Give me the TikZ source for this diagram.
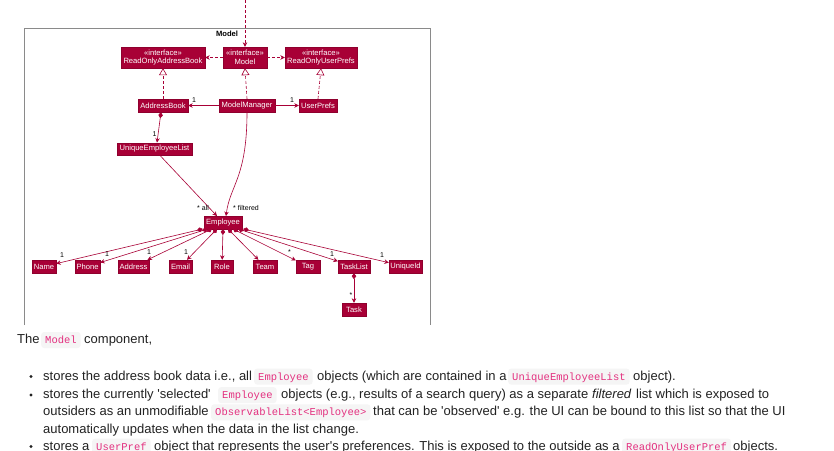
\documentclass[tikz,border=0pt]{standalone}
\usepackage{fontspec}
\usetikzlibrary{arrows.meta,calc}
\newfontfamily\bodyf{Liberation Sans}
\newfontfamily\codef{Liberation Mono}
\newfontfamily\umlf{Liberation Sans}
\definecolor{umlred}{HTML}{A80036}
\definecolor{framegray}{HTML}{8A8A8A}
\definecolor{bodytext}{HTML}{222222}
\definecolor{codepink}{HTML}{E3307F}
\definecolor{codebg}{HTML}{F5F5F5}
\tikzset{
  cls/.style={fill=umlred, draw=umlred!85!black, line width=0.4pt, text=white,
    font=\umlf\fontsize{7.6}{8.6}\selectfont, inner sep=0pt, align=center},
  conn/.style={color=umlred, draw=umlred, line width=0.6pt},
  assoc/.style={conn, -{Stealth[length=4.5pt,width=4.5pt,inset=1.5pt]}},
  depend/.style={conn, dash pattern=on 3pt off 2pt, -{Stealth[length=4.5pt,width=4.5pt,inset=1.5pt]}},
  realize/.style={conn, dash pattern=on 3pt off 2pt, -{Triangle[open,length=7pt,width=8pt,fill=white]}},
  compo/.style={conn, {Diamond[length=6pt,width=4.5pt]}-{Stealth[length=4.5pt,width=4.5pt,inset=1.5pt]}},
  mult/.style={font=\umlf\fontsize{7}{8}\selectfont, text=black, inner sep=0pt},
  txt/.style={anchor=base west, inner sep=0pt, text=bodytext, font=\bodyf\fontsize{13}{16}\selectfont},
  code/.style={anchor=base west, inner xsep=4pt, inner ysep=0pt, text height=11.4pt, text depth=4.6pt,
    fill=codebg, rounded corners=3pt, text=codepink, font=\codef\fontsize{10.5}{12}\selectfont},
  bullet/.style={fill=bodytext, circle, inner sep=0pt, minimum size=3.4pt}
}
\begin{document}
\begin{tikzpicture}[x=1pt,y=-1pt]
\useasboundingbox (0,0) rectangle (834,450);
\fill[white] (0,0) rectangle (834,450);
\begin{scope}
\clip (0,0) rectangle (834,450);

% frame
\draw[framegray, line width=0.8pt] (24,325) -- (24,28) -- (430,28) -- (430,325);
\node[font=\umlf\bfseries\fontsize{7.6}{8}\selectfont, inner sep=0pt] (framelabel) at (227,33.5) {Model};

% interfaces
\node[cls, minimum width=84pt, minimum height=21pt] (roab) at (163,57.5) {«interface»\\ReadOnlyAddressBook};
\node[cls, minimum width=44pt, minimum height=21pt] (imodel) at (245,57.5) {«interface»\\Model};
\node[cls, minimum width=72pt, minimum height=21pt] (roup) at (321,57.5) {«interface»\\ReadOnlyUserPrefs};

% classes
\node[cls, minimum width=50pt, minimum height=13pt] (ab) at (163,105.5) {AddressBook};
\node[cls, minimum width=56pt, minimum height=13pt] (mm) at (247,105.5) {ModelManager};
\node[cls, minimum width=38pt, minimum height=13pt] (up) at (318,105.5) {UserPrefs};
\node[cls, minimum width=75pt, minimum height=12.5pt] (uel) at (154.5,149) {UniqueEmployeeList};
\node[cls, minimum width=38pt, minimum height=12.5pt] (emp) at (223,222.5) {Employee};

\node[cls, minimum width=24pt, minimum height=13pt] (name) at (44,266.5) {Name};
\node[cls, minimum width=25pt, minimum height=13pt] (phone) at (87.5,266.5) {Phone};
\node[cls, minimum width=31pt, minimum height=13pt] (address) at (133.5,266.5) {Address};
\node[cls, minimum width=23pt, minimum height=13pt] (email) at (180.5,266.5) {Email};
\node[cls, minimum width=22pt, minimum height=13pt] (role) at (222,266.5) {Role};
\node[cls, minimum width=24pt, minimum height=13pt] (team) at (265,266.5) {Team};
\node[cls, minimum width=24pt, minimum height=13pt] (tag) at (308,266.5) {Tag};
\node[cls, minimum width=32pt, minimum height=13pt] (tasklist) at (354,266.5) {TaskList};
\node[cls, minimum width=33pt, minimum height=13pt] (uid) at (405.5,266.5) {UniqueId};
\node[cls, minimum width=24pt, minimum height=13pt] (task) at (354,309.5) {Task};

% connectors top
\coordinate (topin) at (245,0);
\draw[depend] (topin) -- (imodel.north);
\draw[depend] (imodel.west) -- (roab.east);
\draw[depend] (imodel.east) -- (roup.west);
\draw[realize] (ab.north) -- (roab.south);
\draw[realize] (mm.north) -- (imodel.south);
\draw[realize] (up.north) -- (roup.south);
\draw[assoc] (mm.west) -- (ab.east);
\draw[assoc] (mm.east) -- (up.west);
\node[mult] (m1) at (194,100) {1};
\node[mult] (m2) at (292,100) {1};

\draw[compo] ([xshift=-2pt]ab.south) -- ([xshift=2.5pt]uel.north);
\node[mult] (m3) at (154.5,134) {1};

\draw[assoc] ([xshift=5.5pt]uel.south) -- ([xshift=-6pt]emp.north);
\draw[assoc] (mm.south) .. controls (247,178) and (230,185) .. ([xshift=3pt]emp.north);
\node[mult, anchor=west] (lall) at (197,208) {* all};
\node[mult, anchor=west] (lfil) at (233,208) {* filtered};

% employee compositions
\draw[compo] ([xshift=-1pt]emp.south west) -- (name);
\draw[compo] ([xshift=4pt]emp.south west) -- (phone);
\draw[compo] ([xshift=-11pt]emp.south) -- (address);
\draw[compo] ([xshift=-6pt]emp.south) -- (email);
\draw[compo] (emp.south) -- (role);
\draw[compo] ([xshift=5pt]emp.south) -- (team);
\draw[compo] ([xshift=10pt]emp.south) -- (tag);
\draw[compo] ([xshift=-4pt]emp.south east) -- (tasklist);
\draw[compo] ([xshift=1pt]emp.south east) -- (uid);
\draw[compo] (tasklist.south) -- (task.north);

\node[mult] (l1) at (62,255.5) {1};
\node[mult] (l2) at (107,254.5) {1};
\node[mult] (l3) at (149,252) {1};
\node[mult] (l4) at (186,252) {1};
\node[mult] (l5) at (289.5,252.5) {*};
\node[mult] (l6) at (332,254) {1};
\node[mult] (l7) at (382,255) {1};
\node[mult] (l8) at (351,295) {*};

% text
\node[txt] (t0a) at (17,343.4) {The};
\node[code] (t0b) at (41,343.4) {Model};
\node[txt] (t0c) at (84,343.4) {component,};

\node[bullet] (b1) at (31,376.5) {};
\node[txt] (t1a) at (43,380) {stores the address book data i.e., all};
\node[code] (t1b) at (254,380) {Employee};
\node[txt] (t1c) at (317,380) {objects (which are contained in a};
\node[code] (t1d) at (508,380) {UniqueEmployeeList};
\node[txt] (t1e) at (633,380) {object).};

\node[bullet] (b2) at (31,395) {};
\node[txt] (t2a) at (43,398.5) {stores the currently \textquotesingle selected\textquotesingle};
\node[code] (t2b) at (218,398.5) {Employee};
\node[txt] (t2c) at (281,398.5) {objects (e.g., results of a search query) as a separate};
\node[txt, font=\bodyf\itshape\fontsize{13}{16}\selectfont] (t2d) at (592,398.5) {filtered};
\node[txt] (t2e) at (636,398.5) {list which is exposed to};

\node[txt] (t3a) at (43,415.7) {outsiders as an unmodifiable};
\node[code] (t3b) at (211,415.7) {ObservableList<Employee>};
\node[txt] (t3c) at (373,415.7) {that can be \textquotesingle observed\textquotesingle{} e.g. the UI can be bound to this list so that the UI};

\node[txt] (t4a) at (43,433.4) {automatically updates when the data in the list change.};

\node[bullet] (b3) at (31,446.5) {};
\node[txt] (t5a) at (43,450) {stores a};
\node[code] (t5b) at (92,450) {UserPref};
\node[txt] (t5c) at (154,450) {object that represents the user\textquotesingle s preferences. This is exposed to the outside as a};
\node[code] (t5d) at (622,450) {ReadOnlyUserPref};
\node[txt] (t5e) at (733,450) {objects.};
\end{scope}
\end{tikzpicture}
\end{document}
